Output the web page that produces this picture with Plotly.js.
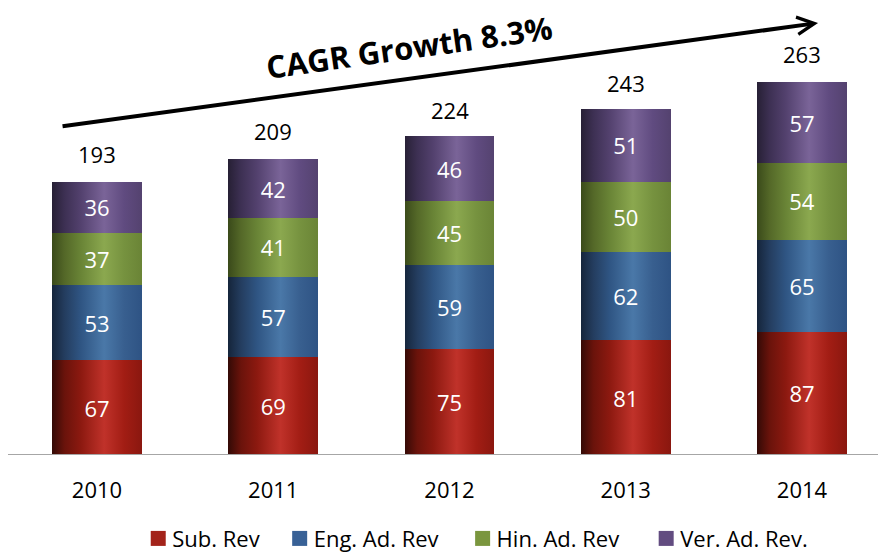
<!DOCTYPE html>
<html>
<head>
<meta charset="utf-8">
<script src="https://cdn.plot.ly/plotly-3.0.1.min.js"></script>
<style>html,body{margin:0;padding:0;background:#fff;}#chart{width:878px;height:553px;}</style>
</head>
<body>
<div id="chart"></div>
<script>
var years = ["2010", "2011", "2012", "2013", "2014"];
var subRev = [67, 69, 75, 81, 87];
var engAdRev = [53, 57, 59, 62, 65];
var hinAdRev = [37, 41, 45, 50, 54];
var verAdRev = [36, 42, 46, 51, 57];
var totals = [193, 209, 224, 243, 263];
var seriesNames = ["Sub. Rev", "Eng. Ad. Rev", "Hin. Ad. Rev", "Ver. Ad. Rev."];
var growthLabel = "CAGR Growth 8.3%";

var FONT = "Open Sans, Noto Sans, sans-serif";
var baseColors = ["#a3231a", "#386196", "#7a963e", "#624c80"];
var gradStops = [
  [[0, "#340a06"], [0.14, "#6a130b"], [0.32, "#8c1910"], [0.58, "#c0322a"], [0.8, "#a21d14"], [1, "#8a170f"]],
  [[0, "#15253b"], [0.14, "#243d5f"], [0.32, "#2f5583"], [0.58, "#4a78a8"], [0.8, "#385f8f"], [1, "#2e5384"]],
  [[0, "#3a4a1a"], [0.14, "#546828"], [0.32, "#698436"], [0.58, "#8ba84f"], [0.8, "#76923f"], [1, "#6a8436"]],
  [[0, "#272035"], [0.14, "#3d3053"], [0.32, "#53416e"], [0.58, "#7a6498"], [0.8, "#604b80"], [1, "#54426f"]]
];
// horizontal nudges applied to legend entries after layout (pixels)
var legendNudge = [-16, -7, 6, 22];

var seriesVals = [subRev, engAdRev, hinAdRev, verAdRev];
var data = seriesVals.map(function (vals, i) {
  return {
    type: "bar",
    name: seriesNames[i],
    x: years,
    y: vals,
    width: 0.51,
    marker: { color: baseColors[i], line: { width: 0 } },
    text: vals.map(String),
    textposition: "inside",
    insidetextanchor: "middle",
    textfont: { family: FONT, size: 22, color: "#ffffff" },
    hoverinfo: "none"
  };
});

// total labels above each stack (x given as category index)
var annotations = years.map(function (yr, i) {
  return {
    x: i, y: totals[i], xref: "x", yref: "y",
    text: String(totals[i]), showarrow: false,
    xanchor: "center", yanchor: "bottom", yshift: 11,
    font: { family: FONT, size: 22, color: "#000000" }
  };
});

// growth arrow
annotations.push({
  xref: "x", yref: "y", axref: "x", ayref: "y",
  x: 4.091, y: 305.0, ax: -0.204, ay: 231.9,
  text: "", showarrow: true, arrowhead: 5, arrowsize: 0.85,
  arrowwidth: 4, arrowcolor: "#000000", standoff: 0
});
annotations.push({
  xref: "paper", yref: "paper", x: 0.466, y: 0.897,
  xanchor: "center", yanchor: "middle",
  text: "<b>" + growthLabel + "</b>", showarrow: false, textangle: -8,
  font: { family: FONT, size: 31, color: "#000000" }
});

var layout = {
  width: 878, height: 553,
  margin: { l: 0, r: 0, t: 0, b: 98, pad: 0, autoexpand: false },
  paper_bgcolor: "#ffffff", plot_bgcolor: "#ffffff",
  barmode: "stack",
  showlegend: true,
  font: { family: FONT, color: "#000000" },
  xaxis: {
    type: "category", range: [-0.5504, 4.4312],
    showgrid: false, zeroline: false, showline: false, ticks: "",
    ticklabelstandoff: 20, automargin: false,
    tickfont: { family: FONT, size: 22, color: "#000000" },
    fixedrange: true
  },
  yaxis: {
    range: [0, 321.2], showgrid: false, zeroline: false, showline: false,
    showticklabels: false, ticks: "", fixedrange: true
  },
  legend: {
    orientation: "h", xref: "container", yref: "container",
    x: 0.535, xanchor: "center", y: 0.064, yanchor: "top",
    traceorder: "normal",
    font: { family: FONT, size: 22, color: "#000000" },
    itemclick: false, itemdoubleclick: false
  },
  shapes: [{
    type: "line", xref: "paper", yref: "y", x0: 0.0091, x1: 1, y0: 0, y1: 0,
    line: { color: "#a6a6a6", width: 2 }, layer: "above"
  }],
  annotations: annotations
};

var gd = document.getElementById("chart");
Plotly.newPlot(gd, data, layout, { staticPlot: true, displayModeBar: false }).then(function () {
  var ns = "http://www.w3.org/2000/svg";
  var svg = gd.querySelector("svg.main-svg");
  var defs = svg.querySelector("defs");
  if (!defs) { defs = document.createElementNS(ns, "defs"); svg.insertBefore(defs, svg.firstChild); }
  gradStops.forEach(function (stops, i) {
    var lg = document.createElementNS(ns, "linearGradient");
    lg.setAttribute("id", "cylgrad" + i);
    lg.setAttribute("x1", "0"); lg.setAttribute("y1", "0");
    lg.setAttribute("x2", "1"); lg.setAttribute("y2", "0");
    stops.forEach(function (s) {
      var st = document.createElementNS(ns, "stop");
      st.setAttribute("offset", s[0]);
      st.setAttribute("stop-color", s[1]);
      lg.appendChild(st);
    });
    defs.appendChild(lg);
  });
  var traces = gd.querySelectorAll(".barlayer .trace");
  traces.forEach(function (t, i) {
    t.querySelectorAll(".point path").forEach(function (p) {
      p.style.fill = "url(#cylgrad" + i + ")";
    });
  });
  gd.querySelectorAll(".legend [clip-path]").forEach(function (el) { el.removeAttribute("clip-path"); });
  var legItems = gd.querySelectorAll(".legend .traces");
  legItems.forEach(function (item, i) {
    var tr = item.getAttribute("transform") || "";
    item.setAttribute("transform", tr + " translate(" + (legendNudge[i] || 0) + ",0)");
  });
  var legPts = gd.querySelectorAll(".legend .legendpoints");
  legPts.forEach(function (g) {
    g.setAttribute("transform", "translate(6,0)");
    g.querySelectorAll("path").forEach(function (p) {
      var tr = p.getAttribute("transform") || "";
      p.setAttribute("transform", tr + " scale(1.25)");
    });
  });
});
</script>
</body>
</html>
